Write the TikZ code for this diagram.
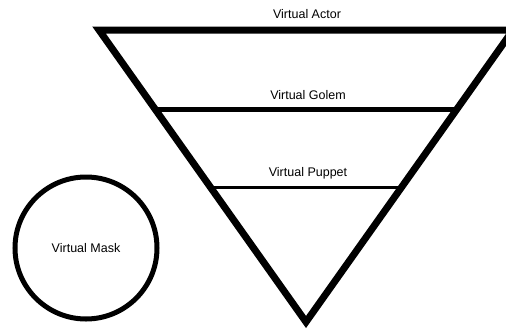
\documentclass[tikz,border=0pt]{standalone}
\usepackage{fontspec}
\setmainfont{Liberation Sans}
\usetikzlibrary{calc}
\begin{document}
\begin{tikzpicture}[x=1pt,y=-1pt,
  lbl/.style={font=\fontsize{12.5}{15}\selectfont, inner sep=0pt},
  thick7/.style={line width=7pt, line join=miter},
]
\useasboundingbox (0,0) rectangle (506,330);
\coordinate (tl) at (99,30);
\coordinate (tr) at (513,30);
\coordinate (bt) at (306,322);
\begin{scope}
\clip (0,0) rectangle (506,330);
\draw[thick7] (tl) -- (tr) -- (bt) -- cycle;
\end{scope}
\coordinate (gl) at ($(tl)!79/292!(bt)$);
\coordinate (gr) at ($(tr)!79/292!(bt)$);
\coordinate (pl) at ($(tl)!157/292!(bt)$);
\coordinate (pr) at ($(tr)!157/292!(bt)$);
\draw[line width=5pt] (gl) -- (gr);
\draw[line width=3pt] (pl) -- (pr);
\node[lbl] (actor) at (307,14) {Virtual Actor};
\node[lbl] (golem) at (308,95) {Virtual Golem};
\node[lbl] (puppet) at (308,173) {Virtual Puppet};
\node[draw, circle, line width=5pt, minimum size=142pt, inner sep=0pt] (mask) at (86,248) {};
\node[lbl] (masklbl) at (mask.center) {Virtual Mask};
\end{tikzpicture}
\end{document}
